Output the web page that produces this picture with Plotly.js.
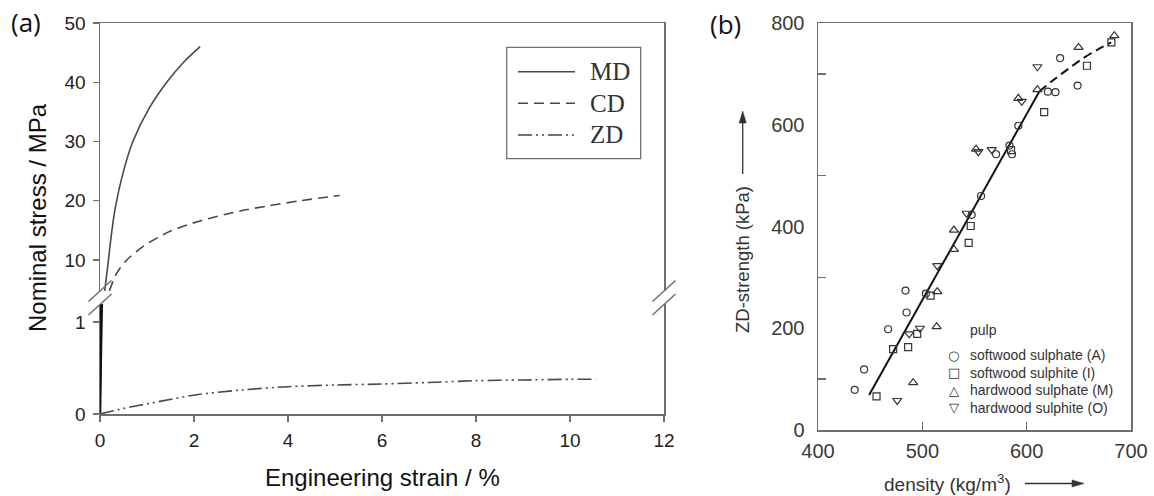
<!DOCTYPE html>
<html>
<head>
<meta charset="utf-8">
<script src="https://cdn.plot.ly/plotly-3.0.1.min.js"></script>
<style>
  html, body { margin: 0; padding: 0; background: #fff; }
  #chart { width: 1154px; height: 496px; }
</style>
</head>
<body>
<div id="chart"></div>
<script>
// ---- (a) stress-strain curves of paper in three directions ----
const strainMD = [0.10, 0.14, 0.18, 0.23, 0.32, 0.50, 0.71, 1.06, 1.42, 1.77, 2.13];
const stressMD = [4.8, 7.4, 10.0, 13.5, 18.6, 25.0, 30.2, 35.8, 40.0, 43.3, 46.0];
const strainCD = [0.20, 0.35, 0.57, 0.92, 1.50, 2.13, 3.00, 3.55, 4.26, 5.10];
const stressCD = [4.8, 7.7, 10.0, 12.3, 14.9, 16.6, 18.3, 19.1, 20.0, 20.9];
// initial elastic rise of MD and CD below the axis break
const strainMDlow = [0, 0.02];
const stressMDlow = [0, 1.3];
const strainCDlow = [0, 0.045];
const stressCDlow = [0, 1.3];
const strainZD = [0, 0.5, 1.06, 2.02, 3, 4, 5, 6, 7, 8, 9, 10, 10.55];
const stressZD = [0, 0.06, 0.116, 0.207, 0.26, 0.297, 0.315, 0.326, 0.343, 0.362, 0.370, 0.377, 0.378];
const strainTicks = [0, 2, 4, 6, 8, 10, 12];
const stressTicksLow = [0, 1];
const stressTicksHigh = [10, 20, 30, 40, 50];
const directionNames = ['MD', 'CD', 'ZD'];

// ---- (b) ZD-strength versus sheet density for four pulps ----
const densityA = [435.2, 444.2, 467.2, 483.9, 484.9, 503.4, 547.3, 556.3, 570.7, 583.5, 586.0, 592.0, 620.3, 627.6, 632.1, 648.8];
const strengthA = [79, 119, 198, 274, 231, 268, 423, 460, 542, 559, 542, 598, 665, 664, 731, 677];
const densityI = [456.1, 472.0, 486.4, 495.1, 508.0, 544.4, 546.4, 585.0, 616.8, 657.8, 681.2];
const strengthI = [66, 159, 163, 189, 264, 368, 401, 550, 625, 716, 762];
const densityM = [491.2, 513.7, 514.3, 530.3, 530.3, 551.5, 592.0, 610.3, 649.7, 684.0];
const strengthM = [93, 203, 272, 355, 393, 552, 652, 669, 752, 775];
const densityO = [475.9, 487.4, 497.7, 514.3, 542.5, 553.7, 566.5, 595.3, 610.3];
const strengthO = [58, 189, 200, 323, 426, 547, 551, 646, 714];
const fitDensity = [449, 612];
const fitStrength = [69, 665];
const trendDensity = [612, 625, 640, 655, 670, 681];
const trendStrength = [665, 687, 710, 732, 750, 762];
const pulpNames = ['softwood sulphate (A)', 'softwood sulphite (I)', 'hardwood sulphate (M)', 'hardwood sulphite (O)'];
const pulpGlyphs = ['\u25CB', '\u25A1', '\u25B3', '\u25BD'];
const densityTicks = [400, 500, 600, 700];

// ---- page geometry helpers (pixel -> paper) ----
const W = 1154, H = 496;
const M = { l: 100, r: 23, t: 23, b: 66 };
const PW = W - M.l - M.r, PH = H - M.t - M.b;
const px = v => (v - M.l) / PW;
const py = v => (H - M.b - v) / PH;

const AX = '#6f6f6f';
const CURVE = '#484848';
const dashCD = '10px,6px';
const dashZD = '14px,4px,2px,4px,2px,4px';
const SANS = 'Liberation Sans, Arial, sans-serif';

const traces = [
  { x: strainMDlow, y: stressMDlow, xaxis: 'x', yaxis: 'y', mode: 'lines',
    line: { color: '#111', width: 2.2 } },
  { x: strainCDlow, y: stressCDlow, xaxis: 'x', yaxis: 'y', mode: 'lines',
    line: { color: '#111', width: 2.2 } },
  { x: strainZD, y: stressZD, xaxis: 'x', yaxis: 'y', mode: 'lines', name: directionNames[2],
    line: { color: CURVE, width: 1.6, dash: dashZD, shape: 'spline', smoothing: 0.8 } },
  { x: strainMD, y: stressMD, xaxis: 'x2', yaxis: 'y2', mode: 'lines', name: directionNames[0],
    line: { color: CURVE, width: 1.6, shape: 'spline', smoothing: 0.8 } },
  { x: strainCD, y: stressCD, xaxis: 'x2', yaxis: 'y2', mode: 'lines', name: directionNames[1],
    line: { color: CURVE, width: 1.6, dash: dashCD, shape: 'spline', smoothing: 0.8 } },

  { x: fitDensity, y: fitStrength, xaxis: 'x3', yaxis: 'y3', mode: 'lines',
    line: { color: '#111', width: 2 } },
  { x: trendDensity, y: trendStrength, xaxis: 'x3', yaxis: 'y3', mode: 'lines',
    line: { color: '#111', width: 2, dash: '9px,5px', shape: 'spline' } },
  { x: densityA, y: strengthA, xaxis: 'x3', yaxis: 'y3', mode: 'markers', name: pulpNames[0],
    marker: { symbol: 'circle-open', size: 7, color: '#333', line: { width: 1.2 } } },
  { x: densityI, y: strengthI, xaxis: 'x3', yaxis: 'y3', mode: 'markers', name: pulpNames[1],
    marker: { symbol: 'square-open', size: 7, color: '#333', line: { width: 1.2 } } },
  { x: densityM, y: strengthM, xaxis: 'x3', yaxis: 'y3', mode: 'markers', name: pulpNames[2],
    marker: { symbol: 'triangle-up-open', size: 8, color: '#333', line: { width: 1.2 } } },
  { x: densityO, y: strengthO, xaxis: 'x3', yaxis: 'y3', mode: 'markers', name: pulpNames[3],
    marker: { symbol: 'triangle-down-open', size: 8, color: '#333', line: { width: 1.2 } } }
];

const tickFontA = { family: SANS, size: 19, color: '#222' };
const tickFontB = { family: SANS, size: 20, color: '#3a3a3a' };

// break marks on both spines of panel (a)
function breakMark(xc, yc) {
  return { type: 'line', xref: 'paper', yref: 'paper',
    x0: px(xc - 11.5), y0: py(yc + 10.5), x1: px(xc + 11.5), y1: py(yc - 10.5),
    line: { color: AX, width: 1.5 } };
}
// arrow next to an axis title of panel (b): shaft plus filled head
function arrow(x0, y0, x1, y1) {
  const len = Math.hypot(x1 - x0, y1 - y0), ux = (x1 - x0) / len, uy = (y1 - y0) / len;
  const hl = 12, hw = 3.6;
  const bx = x1 - ux * hl, by = y1 - uy * hl;
  const pts = [[x1, y1], [bx - uy * hw, by + ux * hw], [bx + uy * hw, by - ux * hw]];
  return [
    { type: 'line', xref: 'paper', yref: 'paper', x0: px(x0), y0: py(y0), x1: px(bx), y1: py(by),
      line: { color: '#333', width: 1.3 } },
    { type: 'path', xref: 'paper', yref: 'paper',
      path: 'M' + pts.map(p => px(p[0]) + ',' + py(p[1])).join(' L') + ' Z',
      fillcolor: '#333', line: { color: '#333', width: 0.5 } }
  ];
}

// legend box of panel (a)
const legRows = [71.7, 103.3, 135];
const legDash = ['solid', dashCD, dashZD];
const shapes = [
  breakMark(100, 291), breakMark(100, 304.5),
  breakMark(664, 291), breakMark(664, 304.5),
  { type: 'rect', xref: 'paper', yref: 'paper', x0: px(506.7), x1: px(640.7), y0: py(158.7), y1: py(47.3),
    line: { color: AX, width: 1.3 }, fillcolor: 'rgba(0,0,0,0)' },
  ...arrow(742.7, 174, 742.7, 111),
  ...arrow(1025, 483.5, 1084, 483.5)
];
legRows.forEach((r, i) => shapes.push({ type: 'line', xref: 'paper', yref: 'paper',
  x0: px(518), x1: px(575), y0: py(r), y1: py(r), line: { color: CURVE, width: 1.6, dash: legDash[i] } }));

function label(text, x, y, font, extra) {
  return Object.assign({ text: text, xref: 'paper', yref: 'paper', x: px(x), y: py(y),
    xanchor: 'center', yanchor: 'middle', showarrow: false, font: font }, extra || {});
}
const annotations = [
  label('(a)', 25.5, 21.5, { family: 'Open Sans, sans-serif', size: 26, color: '#111' }),
  label('(b)', 725, 24, { family: 'Open Sans, sans-serif', size: 26, color: '#111' }),
  label('Nominal stress / MPa', 37, 218, { family: SANS, size: 24, color: '#111' }, { textangle: -90 }),
  label('Engineering strain / %', 382, 477, { family: SANS, size: 24, color: '#111' }),
  label('ZD-strength (kPa)', 742, 260, { family: SANS, size: 18.5, color: '#333' }, { textangle: -90 }),
  label('density (kg/m<sup>3</sup>)', 947.5, 483, { family: SANS, size: 19, color: '#333' }),
  label('pulp', 968, 330, { family: SANS, size: 14, color: '#333' }, { xanchor: 'left' })
];
legRows.forEach((r, i) => annotations.push(label(directionNames[i], 588, r,
  { family: 'Liberation Serif, Times New Roman, serif', size: 25, color: '#333' }, { xanchor: 'left' })));
// key of panel (b)
const keyRows = [355, 372.5, 390, 407.5];
keyRows.forEach((r, i) => {
  annotations.push(label(pulpGlyphs[i], 953.5, r, { family: 'DejaVu Sans, sans-serif', size: 13, color: '#333' }));
  annotations.push(label(pulpNames[i], 968, r, { family: SANS, size: 14, color: '#333' }, { xanchor: 'left' }));
});

const layout = {
  width: W, height: H,
  margin: M,
  paper_bgcolor: '#fff', plot_bgcolor: '#fff',
  font: { family: SANS, color: '#222' },
  showlegend: false,
  hovermode: false,
  xaxis: { domain: [0, px(664)], range: [0, 12], anchor: 'y', tickvals: strainTicks,
    ticks: 'outside', ticklen: 6, tickwidth: 1.3, tickcolor: AX, showline: true, linecolor: AX, linewidth: 1.5,
    showgrid: false, zeroline: false, tickfont: tickFontA, ticklabelstandoff: 3 },
  xaxis2: { domain: [0, px(664)], range: [0, 12], matches: 'x', anchor: 'y2', side: 'top',
    showticklabels: false, ticks: '', showline: true, linecolor: AX, linewidth: 1.5, showgrid: false, zeroline: false },
  yaxis: { domain: [py(414), py(304)], range: [0, 110 / 92], anchor: 'x', tickvals: stressTicksLow,
    ticks: 'outside', ticklen: 6, tickwidth: 1.3, tickcolor: AX, showline: true, mirror: true, linecolor: AX, linewidth: 1.5,
    showgrid: false, zeroline: false, tickfont: tickFontA, ticklabelstandoff: 3 },
  yaxis2: { domain: [py(291), 1], range: [10 - 31 / 5.925, 50], anchor: 'x2', tickvals: stressTicksHigh,
    ticks: 'outside', ticklen: 6, tickwidth: 1.3, tickcolor: AX, showline: true, mirror: true, linecolor: AX, linewidth: 1.5,
    showgrid: false, zeroline: false, tickfont: tickFontA, ticklabelstandoff: 3 },
  xaxis3: { domain: [px(818), 1], range: [400, 700], anchor: 'y3', tickvals: densityTicks,
    ticks: 'inside', ticklen: 8, tickwidth: 1.3, tickcolor: AX, showline: true, mirror: true, linecolor: AX, linewidth: 1.5,
    showgrid: false, zeroline: false, tickfont: tickFontB, ticklabelstandoff: 2 },
  yaxis3: { domain: [0, 1], range: [0, 800], anchor: 'x3', tickmode: 'linear', tick0: 0, dtick: 200,
    ticks: 'inside', ticklen: 0.01, tickcolor: 'rgba(0,0,0,0)', showline: true, mirror: true, linecolor: AX, linewidth: 1.5,
    minor: { tickmode: 'linear', tick0: 0, dtick: 100, ticks: 'inside', ticklen: 8, tickwidth: 1.3, tickcolor: AX, showgrid: false },
    showgrid: false, zeroline: false, tickfont: tickFontB, ticklabelstandoff: 8 },
  shapes: shapes,
  annotations: annotations
};

Plotly.newPlot('chart', traces, layout, { displayModeBar: false, staticPlot: true });
</script>
</body>
</html>
